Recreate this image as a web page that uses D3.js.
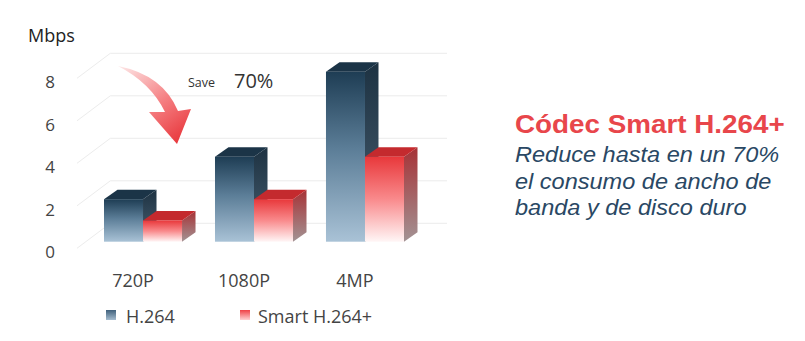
<!DOCTYPE html>
<html>
<head>
<meta charset="utf-8">
<script src="https://cdn.jsdelivr.net/npm/d3@7.9.0/dist/d3.min.js"></script>
<style>
  html, body { margin: 0; padding: 0; background: #fff; }
  svg { display: block; }
</style>
</head>
<body>
<div id="chart"></div>
<script>
/* ── data ─────────────────────────────────────────────── */
const categories = ['720P', '1080P', '4MP'];
const seriesNames = ['H.264', 'Smart H.264+'];
const h264Values = [2, 4, 8];
const smartValues = [1, 2, 4];
const yTicks = [0, 2, 4, 6, 8];
const unitLabel = 'Mbps';
const saveLabel = ['Save', '70%'];
const headline = 'Códec Smart H.264+';
const bodyLines = ['Reduce hasta en un 70%', 'el consumo de ancho de', 'banda y de disco duro'];

/* ── svg ──────────────────────────────────────────────── */
const width = 805, height = 341;
const svg = d3.select('#chart').append('svg')
  .attr('width', width).attr('height', height);

const defs = svg.append('defs');
function vGrad(id, stops) {
  const g = defs.append('linearGradient').attr('id', id)
    .attr('x1', 0).attr('y1', 0).attr('x2', 0).attr('y2', 1);
  stops.forEach(([o, c]) => g.append('stop').attr('offset', o).attr('stop-color', c));
}
vGrad('h264Front', [[0, '#1e3d54'], [0.45, '#5b7d97'], [1, '#a9c2d6']]);
vGrad('h264Side',  [[0, '#1d3242'], [1, '#4a6072']]);
vGrad('smartFront', [[0, '#e8383b'], [0.5, '#f98a8c'], [1, '#fff6f6']]);
vGrad('smartSide', [[0, '#a63236'], [1, '#a39394']]);
vGrad('h264Key',  [[0, '#3f607b'], [1, '#a5bccf']]);
vGrad('smartKey', [[0, '#ef4146'], [1, '#ffd2d3']]);

const arrowGrad = defs.append('linearGradient').attr('id', 'arrowGrad')
  .attr('gradientUnits', 'userSpaceOnUse')
  .attr('x1', 119).attr('y1', 67).attr('x2', 177).attr('y2', 144);
arrowGrad.append('stop').attr('offset', 0).attr('stop-color', '#fde6e6');
arrowGrad.append('stop').attr('offset', 0.55).attr('stop-color', '#f57f82');
arrowGrad.append('stop').attr('offset', 1).attr('stop-color', '#e8383d');

/* ── scales ───────────────────────────────────────────── */
const yScale = d3.scaleLinear().domain([0, 8]).range([241.7, 71.7]);
const xGroup = d3.scaleBand().domain(categories).range([104, 404]).paddingInner(0.297);
const xSub = d3.scaleBand().domain(seriesNames).range([0, xGroup.bandwidth()]);

// oblique depth offsets
const barDepth = [13.5, -9.5];
const wallBack = [24.5, -18.4];
const floorFront = [-8.8, 6.6];
const wallLeftX = 77, wallRightX = 447;

/* ── grid (side wall + back wall) ─────────────────────── */
svg.append('g').selectAll('path')
  .data(yTicks)
  .join('path')
    .attr('fill', 'none')
    .attr('stroke', '#ececec')
    .attr('stroke-width', 1)
    .attr('d', v => {
      const y = yScale(v);
      return `M${wallLeftX},${y + floorFront[1]} L${wallLeftX + 33.3},${y + wallBack[1]} L${wallRightX},${y + wallBack[1]}`;
    });

/* ── y labels ─────────────────────────────────────────── */
svg.append('g').selectAll('text')
  .data(yTicks)
  .join('text')
    .attr('x', 50)
    .attr('y', v => yScale(v) + 10.8)
    .attr('dy', '0.35em')
    .attr('text-anchor', 'middle')
    .attr('font-family', 'Open Sans, sans-serif')
    .attr('font-size', 17)
    .attr('fill', '#444')
    .text(v => v);

svg.append('text')
  .attr('x', 28).attr('y', 42)
  .attr('font-family', 'Open Sans, sans-serif')
  .attr('font-size', 18)
  .attr('fill', '#222')
  .text(unitLabel);

/* ── 3D bars ──────────────────────────────────────────── */
const series = [
  { name: seriesNames[0], values: h264Values, front: 'url(#h264Front)', top: '#1b3447', side: 'url(#h264Side)' },
  { name: seriesNames[1], values: smartValues, front: 'url(#smartFront)', top: '#c42a2e', side: 'url(#smartSide)' }
];

const [dx, dy] = barDepth;
series.forEach(s => {
  const g = svg.append('g');
  const bars = g.selectAll('g')
    .data(categories.map((c, i) => ({ cat: c, value: s.values[i] })))
    .join('g');
  const x0 = d => xGroup(d.cat) + xSub(s.name);
  const w = xSub.bandwidth();
  const y0 = yScale(0);
  // side
  bars.append('path')
    .attr('fill', s.side)
    .attr('d', d => {
      const x = x0(d) + w, yt = yScale(d.value);
      return `M${x},${yt} L${x + dx},${yt + dy} L${x + dx},${y0 + dy} L${x},${y0} Z`;
    });
  // top
  bars.append('path')
    .attr('fill', s.top)
    .attr('d', d => {
      const x = x0(d), yt = yScale(d.value);
      return `M${x},${yt} L${x + dx},${yt + dy} L${x + w + dx},${yt + dy} L${x + w},${yt} Z`;
    });
  // front
  bars.append('rect')
    .attr('x', x0)
    .attr('y', d => yScale(d.value))
    .attr('width', w)
    .attr('height', d => y0 - yScale(d.value))
    .attr('fill', s.front);
});

/* ── x labels ─────────────────────────────────────────── */
svg.append('g').selectAll('text')
  .data(categories)
  .join('text')
    .attr('x', c => xGroup(c) + xGroup.bandwidth() / 2 - 10)
    .attr('y', 287)
    .attr('text-anchor', 'middle')
    .attr('font-family', 'Open Sans, sans-serif')
    .attr('font-size', 18)
    .attr('fill', '#444')
    .text(c => c);

/* ── legend ───────────────────────────────────────────── */
const legendX = [106, 240];
const legend = svg.append('g').selectAll('g')
  .data(seriesNames)
  .join('g')
    .attr('transform', (d, i) => `translate(${legendX[i]},0)`);
legend.append('rect')
  .attr('x', 0).attr('y', 310)
  .attr('width', i => 10).attr('height', 10)
  .attr('fill', (d, i) => i === 0 ? 'url(#h264Key)' : 'url(#smartKey)');
legend.append('text')
  .attr('x', (d, i) => i === 0 ? 20 : 18).attr('y', 323)
  .attr('font-family', 'Open Sans, sans-serif')
  .attr('font-size', 18)
  .attr('fill', '#444')
  .text(d => d);

/* ── "Save 70%" + arrow ───────────────────────────────── */
svg.append('path')
  .attr('fill', 'url(#arrowGrad)')
  .attr('d', 'M118,66 Q163,75 178,111 L191,109 L177,144 L149,112 L165,112 Q151,83 118,66 Z');

svg.append('text')
  .attr('x', 188).attr('y', 87)
  .attr('font-family', 'Open Sans, sans-serif')
  .attr('font-size', 12.5)
  .attr('fill', '#333')
  .text(saveLabel[0]);
svg.append('text')
  .attr('x', 234).attr('y', 88)
  .attr('font-family', 'Open Sans, sans-serif')
  .attr('font-size', 20)
  .attr('fill', '#333')
  .text(saveLabel[1]);

/* ── side text ────────────────────────────────────────── */
const side = svg.append('g').attr('transform', 'translate(515,0) scale(1.07,1)');
side.append('text')
  .attr('x', 0).attr('y', 133)
  .attr('font-family', 'Liberation Sans, Arial, sans-serif')
  .attr('font-weight', 'bold')
  .attr('font-size', 26)
  .attr('fill', '#e8464b')
  .text(headline);
side.selectAll('text.body')
  .data(bodyLines)
  .join('text')
    .attr('class', 'body')
    .attr('x', 0)
    .attr('y', (d, i) => 162 + i * 26.6)
    .attr('font-family', 'Liberation Sans, Arial, sans-serif')
    .attr('font-style', 'italic')
    .attr('font-size', 22)
    .attr('fill', '#2a4864')
    .text(d => d);
</script>
</body>
</html>
